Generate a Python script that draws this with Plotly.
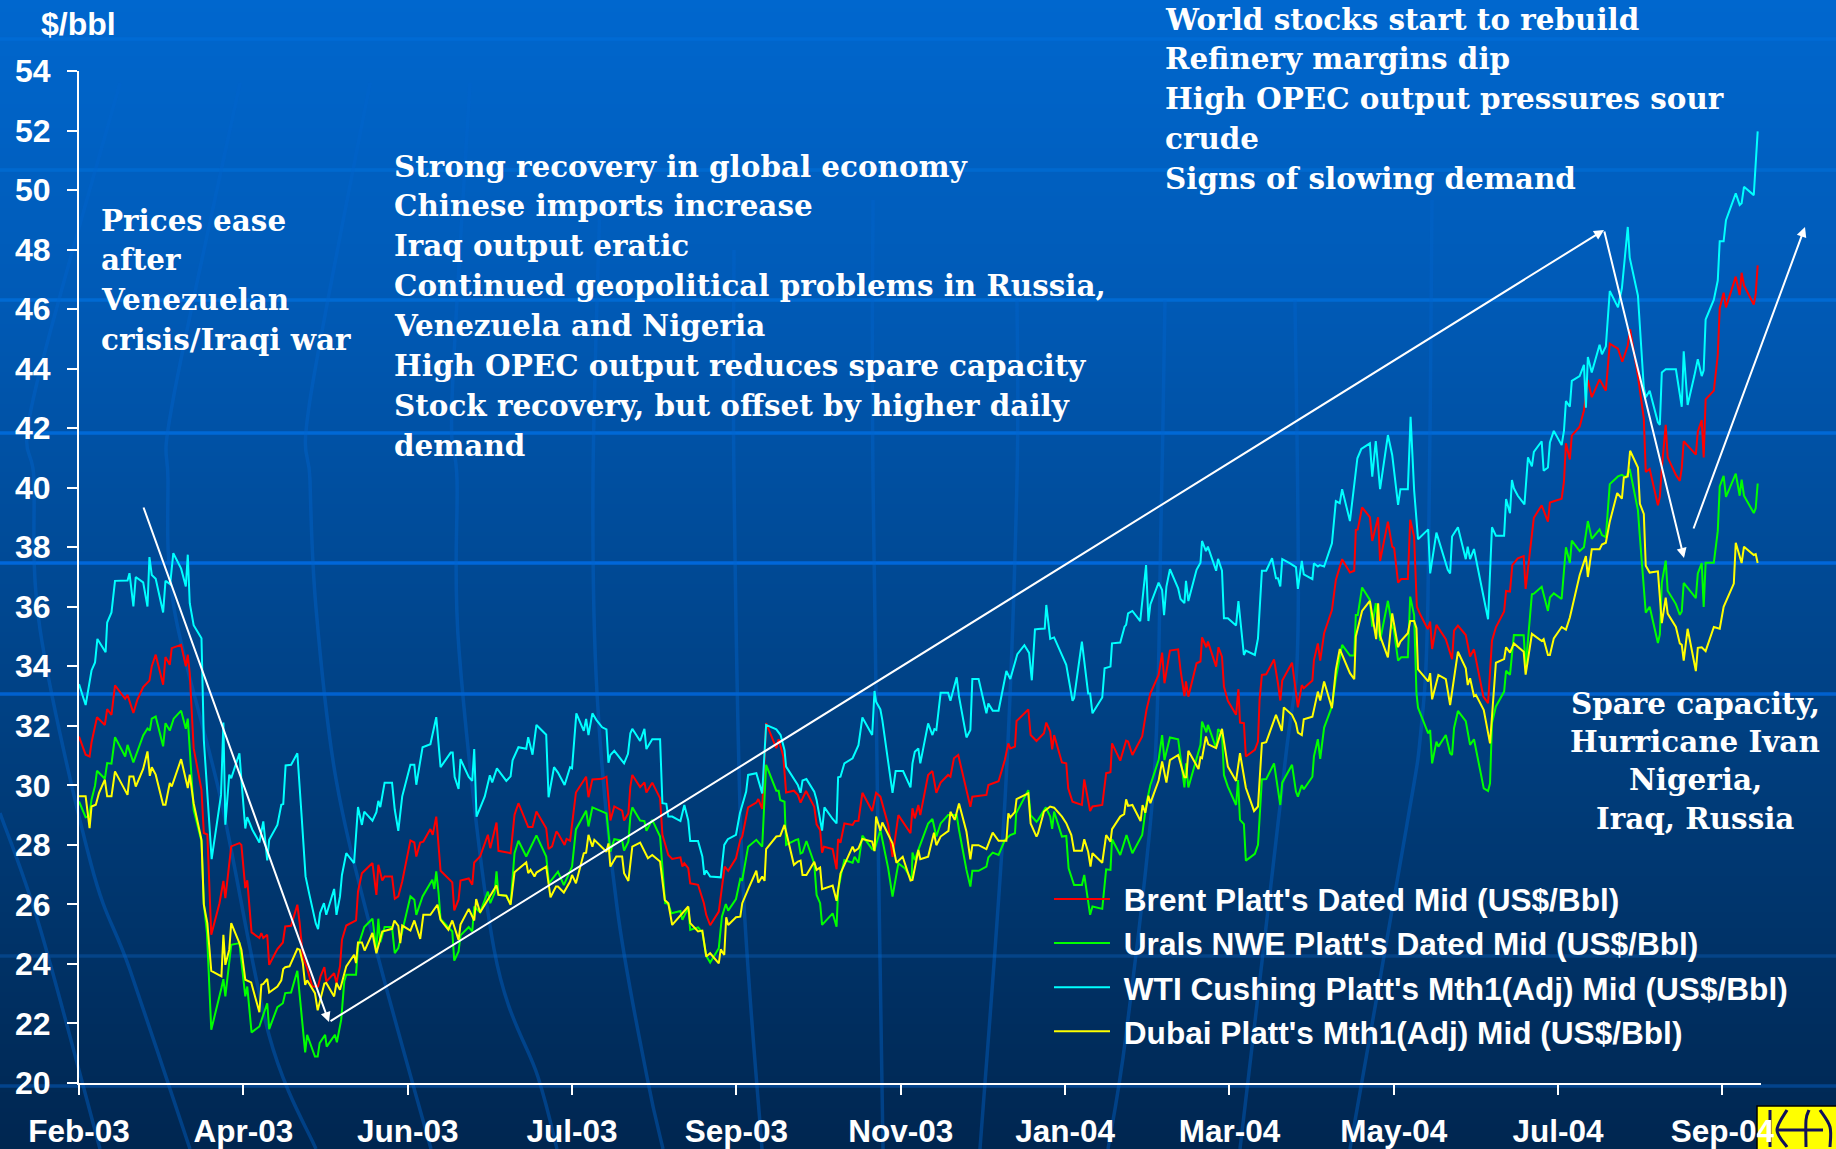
import plotly.graph_objects as go

# ---------- data: (business-day number since the start of Feb-03, US$/bbl) ----------
tick_labels = ["Feb-03","Apr-03","Jun-03","Jul-03","Sep-03","Nov-03","Jan-04","Mar-04","May-04","Jul-04","Sep-04"]
y_ticks = list(range(20, 55, 2))

wti = [(0,33.4),(1.7,32.7),(3.2,33.86),(4.1,34.13),(4.7,34.92),(6.8,34.47),(7.2,35.47),(8.3,35.81),(9.2,36.87),(12.4,36.88),(12.9,37.13),(13.9,36.01),(14.5,37.0),(16.4,36.82),(17.5,36.01),(18,37.67),(18.6,37.07),(19.6,36.94),(21.5,35.81),(22.1,36.87),(23.3,36.76),(24.1,37.8),(26.1,37.28),(27.3,36.68),(27.8,37.75),(28.3,36.12),(29.3,35.38),(31.3,34.94),(31.9,31.53),(33.9,27.52),(36.3,29.68),(36.9,32.11),(37.4,28.68),(38.4,30.36),(38.9,30.24),(41,31.08),(41.5,30.19),(42.5,28.55),(43,28.93),(44.3,28.51),(46.1,28.08),(47.1,28.79),(48.1,27.48),(48.6,28.17),(50.7,28.67),(51.7,29.35),(52.2,29.37),(52.8,30.67),(54.2,30.69),(55.8,31.08),(56.9,28.96),(57.9,26.94),(58.8,26.38),(60.5,25.37),
(61.1,25.17),(61.6,25.71),(62.6,26.04),(63.2,25.65),(65.2,26.52),(65.8,25.65),(66.7,26.27),(67.2,26.99),(68.3,27.72),(70.3,27.39),(71.3,29.27),(72.3,28.67),(72.9,29.12),(75,28.81),(76,29.1),(76.5,29.48),(77,29.27),(78.1,30.09),(80,30.09),(80.7,29.18),(81.6,28.47),(82.6,29.63),(84.7,30.69),(85.7,30.69),(86.2,30.02),(87.8,31.28),(89.8,31.38),(91.3,32.29),(92.4,30.61),(95,31.1),(95.5,31.1),(96,30.28),(97,29.88),(97.5,30.88),(99.6,30.28),(100.5,30.15),(101,31.22),(101.6,28.95),(103.7,29.63),(105,30.34),(105.6,30.1),(106.8,30.57),(109.2,30.15),(110.3,30.3),(110.8,30.84),(112.3,31.28),(114.3,31.23),(114.8,31.62),(115.9,31.03),(116.9,32.03),(119.4,31.7),(120,29.6),(121.4,30.61),
(122.4,30.43),(124.1,30.01),(125.5,30.61),(126,30.57),(127.1,32.42),(129,31.83),(129.6,32.23),(130.2,31.69),(131.2,32.42),(132.2,32.2),(133.7,31.95),(134.8,31.88),(135.3,30.76),(135.8,31.02),(136.8,31.16),(139.3,30.74),(140.3,31.06),(140.9,31.75),(141.4,31.9),(143.4,31.49),(144.5,31.9),(145,31.22),(146.5,31.55),(148.5,31.55),(149.1,29.4),(150.1,29.38),(150.6,28.95),(151.6,28.95),(153.7,28.8),(154.7,29.34),(155.7,28.82),(156.2,28.13),(158.2,28.13),(159.3,27.61),(159.8,26.99),(160.3,27.14),(161.3,26.94),(164,26.91),(164.9,28),(165.8,28.19),(167.9,28.34),(168.9,29.06),(170.5,29.79),(171,30.35),(173.1,30.41),(174.6,29.73),(175.6,32.03),(178.2,31.88),(179.3,31.69),(180.3,31.19),(180.7,30.63),(183.7,30.01),
(184.4,29.75),(184.9,30.16),(185.9,30.21),(187.9,29.79),(188.5,29.51),(189.9,28.48),(190.5,29.26),(192.6,28.87),(193.6,28.72),(194,30.27),(194.6,30.29),(195.6,30.74),(197.7,30.91),(199.2,31.35),(200.2,32.28),(202.7,31.69),(203.3,33.17),(203.7,32.81),(204.8,32.55),(205.3,32.19),(206.8,30.74),(207.9,29.75),(208.7,30.48),(210.6,30.48),(212.5,29.93),(213,30.74),(213.6,31.13),(214.5,31.24),(215,30.74),(217,32.08),(218.1,31.69),(218.6,31.89),(219.1,31.86),(220.2,33.11),(222.1,33.11),(222.7,32.84),(223.2,33.09),(224.3,33.63),(224.9,32.98),(226.8,31.61),(227.8,31.86),(228.3,33.57),(229.9,33.57),(231.9,32.42),(232.4,32.75),(233.5,32.51),(235,32.51),(237,33.84),(238,33.57),(239.8,34.41),(241.6,34.71),(242.8,34.45),(243.5,33.53),(244.3,35.24),
(245.1,35.25),(246.8,35.27),(247.2,36.06),(248.2,34.92),(249.2,34.97),(252.3,34.05),(253.9,32.84),(254.3,32.93),(256.3,34.83),(257.9,33.09),(258.4,33.09),(259,32.42),(261.5,32.95),(262.1,33.93),(263.6,33.99),(264,34.77),(266.1,34.8),(267.2,35.33),(267.6,35.39),(268.1,35.78),(269.2,35.86),(271.2,35.52),(272.7,37.4),(273.3,35.52),(273.8,36.08),(275.9,36.81),(276.8,36.56),(277.3,35.72),(277.9,36.68),(278.8,37.26),(280.9,36.62),(281.5,36.26),(282.5,36.12),(282.9,36.87),(283.5,36.19),(285.6,37.24),(286.6,37.48),(287,38.21),(288,37.87),(288.5,38.02),(290.6,37.21),(291.1,37.61),(292.1,37.21),(292.6,35.61),(293.6,35.61),(295.7,35.37),(296.3,36.19),(297.7,34.38),(298.2,34.53),(300.5,34.38),(301.3,34.94),(302.3,37.21),(303.4,37.21),(304.9,37.63),(305.9,36.96),
(306.4,36.96),(307,36.68),(307.5,37.6),(309.5,37.46),(311,37.33),(311.5,36.6),(312.5,37.54),(313,37.09),(315.2,36.93),(315.6,37.46),(316.6,37.35),(317.1,37.4),(318.2,37.35),(320.2,38.13),(321.2,39.55),(322.2,39.48),(322.8,39.95),(324.8,38.88),(326.7,40.99),(327.7,41.3),(329.9,41.49),(330.5,40.37),(331.4,41.57),(332.5,39.95),(334.5,41.77),(335.6,41.1),(337.1,39.42),(337.7,39.95),(339.6,39.95),(340.3,42.38),(341.2,39.92),(342.2,38.27),(344.8,38.6),(345.3,37.12),(346.9,38.49),(349.8,37.24),(350.4,37.12),(350.9,38.36),(352.4,38.67),(354.4,37.6),(354.9,38.02),(355.5,37.6),(356.5,37.94),(360.1,35.58),(361.1,38.67),(362.1,38.39),(364.2,38.39),(364.7,39.62),(365.7,39.14),(366.2,40.26),(366.7,39.98),(367.7,39.73),
(369.4,39.44),(370.3,41.02),(371.3,40.72),(371.8,41.2),(373.8,41.56),(374.3,40.57),(375.4,40.68),(375.9,41.52),(376.9,41.91),(378.9,41.43),(379.5,41.92),(380,42.91),(381,42.72),(381.5,43.59),(383.5,43.75),(384.6,44.13),(385.1,42.69),(385.6,44.39),(386.6,43.87),(388.6,44.8),(389.2,44.48),(390.2,44.75),(391.2,46.61),(393.3,46.06),(394.3,46.7),(395.8,48.76),(396.3,47.73),(398.4,46.45),(399.9,43.36),(400.4,43.04),(401.4,43.26),(403.5,42.2),(404,42.11),(404.5,43.87),(405.5,43.98),(408.1,43.98),(409.6,42.72),(410.1,44.58),(411.1,42.78),(412.8,43.75),(413.7,44.32),(414.7,43.75),(415.2,43.94),(415.7,45.65),(417.8,46.32),(418.8,46.96),(419.3,48.28),(420.3,48.28),(420.9,48.99),(423.4,49.89),(424.4,49.5),(424.9,49.56),(425.5,50.11),(428,49.83),(429,51.97)]

brent = [(0,31.64),(1.7,31.03),(2.7,30.97),(3.2,31.44),(4.6,32.29),(6.6,32.03),(7.2,32.56),(8.3,32.37),(9.2,33.36),(11.8,32.91),(12.4,33.04),(13.9,32.43),(14.9,32.87),(16.4,33.3),(18,33.52),(18.6,34),(19.6,34.39),(21.5,33.38),(22.1,34.31),(23.2,34.05),(23.7,34.61),(26.1,34.72),(27.3,34),(27.8,34.39),(28.3,33.77),(28.8,32.43),(29.3,31.25),(31.3,29.85),(31.9,28.4),(32.8,28.35),(33.8,24.98),(35.9,26.04),(36.9,26.79),(37.4,26.21),(38.9,27.95),(41,28.06),(41.5,28),(42.5,26.55),(43,26.81),(44.1,25.06),(46.1,24.87),(46.6,25.04),(47.1,24.87),(48.1,24.98),(48.6,23.97),(50.7,24.5),(52.1,24.72),(52.7,25.26),(54.2,25.28),(55.8,25.99),(56.4,25.37),(57.2,24.25),(58.3,23.86),(59.6,23.24),
(61.1,23.24),(61.7,23.58),(62.7,23.89),(63.2,23.41),(65.2,23.69),(65.8,23.36),(66.7,23.92),(67.2,24.81),(68.3,25.29),(70.8,25.46),(71.3,26.43),(72.3,27.05),(75,27.39),(76,26.32),(76.5,27.33),(77.5,26.8),(78.1,26.94),(80,26.94),(80.7,26.19),(81.6,26.27),(82.6,26.77),(84.7,28.15),(85.7,28.08),(86.2,27.61),(87.2,28.08),(88,28.11),(89.8,28.53),(90.4,28.34),(91.3,28.95),(92.4,27.13),(95.4,26.74),(95.9,25.8),(97,26.16),(97.5,26.8),(99.6,26.87),(100.5,26.66),(101,27.41),(102.5,27.61),(104.5,28.34),(105.1,27.89),(106.7,28.75),(107.2,27.8),(110.3,27.72),(111.3,29.01),(112.3,29.4),(114.8,28.6),(115.9,28.6),(116.9,29.12),(119.4,28.56),(120,27.86),(120.9,27.95),(122,28.45),
(122.4,28.39),(124.1,28),(124.6,28.2),(125.5,28.14),(127,29.76),(129.6,30.29),(130.2,29.6),(131.2,30.2),(133.7,30.22),(134.8,30.29),(135.8,28.82),(136.8,29.29),(138.8,29.15),(139.3,28.82),(140.4,29.06),(140.9,29.96),(141.4,30.35),(143.4,29.94),(144.5,30.1),(145,29.76),(146.5,30.09),(148.5,29.57),(149.1,28.34),(150.6,27.66),(151.6,27.53),(153.7,27.58),(154.2,27.27),(154.7,27.38),(155.7,27.22),(156.2,26.71),(158.2,26.66),(159.7,26.04),(160.3,25.65),(161.3,25.3),(163.5,25.76),(165,27.27),(165.9,27.13),(167.9,27.55),(169,28.17),(169.5,28.28),(171,29.26),(173.1,29.42),(173.6,29.54),(174.6,29.21),(175.6,32.09),(178.2,31.25),(178.8,31.55),(180,30.97),(180.7,29.76),(182.7,29.82),(183.7,29.68),
(184.4,29.42),(185.8,29.81),(187.9,29.28),(188.5,28.69),(189.4,28.5),(189.9,27.74),(190.4,27.94),(192.6,27.86),(193.6,27.18),(194,28.2),(194.6,28.07),(195.6,28.72),(197.7,28.67),(198.3,28.8),(199.2,28.81),(200.2,29.75),(202.7,29.14),(203.7,29.75),(204.8,29.62),(206.8,28.67),(207.9,27.6),(209.4,29),(212.5,28.39),(213,29.23),(213.6,28.89),(214.5,29.34),(215,29),(217,30.35),(218.1,30.48),(219.1,29.75),(220.2,30.09),(222.1,30.35),(222.7,30.29),(223.6,30.91),(224.7,31.02),(226.8,29.84),(227.8,29.28),(228.3,29.62),(231.9,29.68),(232.4,30.01),(235,30.14),(236.6,30.85),(237.5,31.41),(238,31.24),(239.2,31.3),(239.6,32.16),(242.6,32.55),(243.2,31.69),(244.7,31.49),
(246.6,31.75),(247.2,32.11),(248.2,31.81),(248.7,31.21),(249.2,31.69),(251.2,30.77),(252.3,30.74),(252.8,29.9),(253.9,29.45),(256.3,29.34),(256.9,30.2),(258.4,29.14),(259,29.29),(261.5,29.34),(262.5,30.41),(263.6,30.44),(264,31.41),(266.1,30.83),(267.6,31.5),(268.1,31.47),(269.2,31.02),(271.7,31.64),(272.8,32.53),(273.8,33.09),(275.9,33.71),(276.8,34.46),(277.4,33.43),(278.8,34.53),(280.9,34.57),(281.5,33.88),(282.5,33),(282.9,33.49),(283.5,32.98),(285.6,34.1),(286.6,34.16),(287,34.97),(288.1,34.64),(288.5,34.83),(290.6,33.99),(291.2,34.64),(292.1,34.32),(292.6,33.32),(293.6,32.84),(295.7,32.37),(296.3,33.23),(296.7,32.11),(297.7,32.09),(298.2,30.97),(300.5,31.19),(301.3,31.47),(301.7,32.87),(302.3,33.71),(303.4,33.73),(305.4,34.23),(306.4,33.43),
(307,32.85),(307.5,33.52),(310,34.12),(311.5,32.62),(312.5,33.37),(313,33.26),(315.2,33.52),(315.6,34.21),(316.6,34.77),(317.2,34.19),(318.2,35.11),(320.2,35.89),(321.2,36.9),(322.8,37.6),(324.8,37.15),(325.9,37.21),(326.3,38.58),(326.8,38.6),(327.9,39.34),(329.9,39.01),(330.5,38.21),(332,39.01),(332.5,37.54),(334.5,38.86),(335.6,38.02),(336.1,37.97),(337.1,36.81),(337.9,36.93),(339.6,36.93),(340.2,38.92),(341.2,38.36),(341.9,36),(342.8,35.73),(344.7,35.25),(345.3,35.5),(345.8,34.58),(346.9,35.39),(349.3,34.91),(350.9,34.24),(351.4,35.2),(352.4,35.37),(354.4,35.05),(355.5,34.33),(356.5,34.57),(358.9,32.98),(360.1,32.76),(361.1,34.86),(362.1,35.31),(364.2,35.84),(364.7,36.53),(365.7,36.51),(366.3,37.4),(367.7,37.63),
(369.2,37.7),(369.7,36.6),(371.8,38.99),(373.8,39.41),(375.4,38.86),(375.9,39.5),(378.9,39.63),(379.5,40.21),(380,41.49),(381,40.95),(381.5,41.75),(383.5,42.05),(384.6,42.59),(385.6,43.62),(386.6,43.04),(388.6,43.64),(390.2,43.26),(391.2,44.84),(393.3,44.67),(394.4,44.23),(395.8,44.77),(396.4,45.33),(398.4,43.75),(399.9,42.33),(400.4,40.53),(401.4,40.63),(403.5,39.41),(404,39.69),(404.5,40.66),(405.5,42.11),(406,41.02),(408.1,40.43),(409.1,40.23),(409.6,40.66),(410.1,41.56),(413.2,41.11),(413.7,41.88),(414.7,42.27),(415.2,41.02),(415.7,42.97),(417.8,43.26),(418.8,44.45),(419.3,46.03),(420.3,46.55),(420.9,46.06),(423.4,47.09),(424.4,46.47),(424.9,47.22),(425.5,46.8),(428,46.15),(428.5,46.51),(429,47.47)]

urals = [(0,29.46),(1.7,28.93),(2.6,28.96),(3.2,29.52),(4.1,29.99),(4.6,30.49),(6.6,30.22),(7.2,30.75),(8.3,30.73),(9.2,31.62),(11.8,30.97),(12.4,31.36),(13.9,30.77),(16.4,31.68),(17.5,31.91),(18.1,31.84),(18.6,32.24),(19.6,32.31),(21.5,31.31),(22.1,32.09),(23.2,31.84),(24.2,32.24),(26.1,32.51),(27.3,31.9),(27.8,32.24),(29.3,29.18),(31.3,28.12),(31.9,26.04),(32.7,25.04),(33.8,21.79),(36.4,23.19),(36.9,23.49),(37.4,22.91),(38.9,24.64),(41,24.7),(42.5,22.91),(43,23.24),(44.1,21.7),(46.1,21.9),(48.1,22.68),(48.6,21.81),(50.7,22.55),(52.1,22.68),(52.7,23.02),(54.2,23.04),(55.8,23.77),(57.8,21.03),(58.3,21.62),(60.3,20.89),(61,20.89),
(61.5,21.34),(62.9,21.62),(63.3,21.22),(65.4,21.62),(65.9,21.37),(67,22.12),(67.8,23.42),(68.3,23.64),(70.8,23.64),(71.3,24.59),(72.9,25.24),(75,25.52),(76,24.48),(76.5,25.52),(77,24.73),(78.1,25.24),(80,25.24),(80.7,24.36),(81.6,24.53),(84.7,26.27),(85.7,26.16),(86.2,25.65),(87.8,26.27),(90.3,26.83),(90.8,26.52),(91.3,27.11),(91.9,26.38),(92.4,25.51),(95.4,25.09),(95.9,24.11),(97,24.42),(97.5,24.96),(99.6,25.24),(100.5,25.09),(101,25.93),(102.5,25.73),(104.5,26.43),(105.1,26.04),(106.2,26.38),(106.7,27.11),(107.2,26.32),(109.2,26.29),(110.3,26.01),(111.3,27.72),(112.3,28.14),(114.3,27.61),(116.9,28.32),(119.4,27.61),(120.1,26.71),(121.6,26.94),(122.4,27.1),
(123.9,26.65),(126,27.27),(127,28.52),(129.6,29.15),(130.2,28.62),(131.2,29.26),(134.8,29.06),(135.8,27.77),(136.8,28.19),(138.8,28.14),(139.3,27.81),(140.4,28.11),(140.9,28.95),(141.4,29.26),(143.4,28.82),(144.5,28.8),(145,28.47),(146.5,28.84),(148.5,28.28),(149.8,26.04),(150.6,26.02),(151.4,25.7),(153.7,25.78),(154.2,25.48),(155.7,25.9),(156.2,25.14),(158.2,25.23),(159.3,25.06),(160.3,24.27),(161.3,24.05),(163.5,24.53),(164.3,25.59),(165.3,26.01),(165.9,25.79),(167.9,26.18),(169,26.86),(169.5,26.82),(171,27.94),(173.1,28.17),(174.6,27.94),(175.6,30.69),(178.2,29.82),(178.8,29.82),(179.2,29.51),(180.3,29.45),(180.7,28),(183.2,28.17),
(183.8,28.19),(184.4,27.71),(184.9,27.74),(185.9,28.13),(187.9,27.38),(188.5,26.32),(189.4,26.04),(189.9,25.31),(192.6,25.7),(193.6,25.25),(194,26.48),(195,27.16),(195.6,27.49),(197.7,27.4),(198.2,27.6),(199.2,27.4),(200.2,28.31),(202.7,27.86),(203.3,27.83),(204.8,28.5),(206.8,27.21),(207.9,26.26),(209.4,27.38),(211.1,27.21),(212.8,26.82),(213,27.74),(213.6,27.49),(214.5,27.83),(217,28.72),(218.1,28.87),(219.1,28.28),(220.2,28.72),(222.1,29),(224.3,29),(224.9,28.5),(226.8,27.16),(227.8,26.6),(228.3,27.13),(229.9,27.13),(231.9,27.27),(232.4,27.58),(233.5,27.74),(235,27.66),(236.6,28.16),(238,28.33),(239.2,28.39),(239.5,29.06),(242.6,29.84),(243.2,29),(244.7,28.78),
(245.1,28.84),(247.1,29.26),(248.2,28.95),(248.7,28.54),(249.2,29.12),(251.2,28.28),(252.3,28.3),(252.9,27.21),(254.3,26.65),(256.3,26.65),(256.9,26.99),(258.4,25.65),(259,25.93),(261.5,25.85),(262.5,27.18),(263.6,27.16),(264,28.19),(266.1,27.66),(267.7,28.33),(269.2,27.72),(271.7,28.33),(272.8,29.4),(273.8,30.01),(275.9,30.85),(276.8,31.69),(277.4,30.85),(278.8,31.61),(280.9,31.55),(282.5,29.93),(282.9,30.74),(283.5,29.93),(286.6,31.36),(287,32.14),(288.1,31.78),(288.5,32.03),(290.6,31.25),(291.1,31.89),(292.1,31.75),(292.6,30.35),(293.6,29.96),(295.7,29.34),(296.2,30.18),(296.7,28.84),(297.7,28.7),(298.2,27.47),(300.5,27.7),(301.3,28),(302.3,30.2),(303.4,30.21),(305.4,30.74),(306.4,29.9),
(307,29.34),(307.5,30.09),(310,30.69),(311,29.79),(311.5,29.62),(312.5,30.01),(313,29.87),(315.2,30.29),(315.6,30.97),(316.6,31.55),(317.2,30.89),(318.2,31.94),(320.2,32.65),(321.2,33.6),(322.8,34.72),(324.8,34.36),(325.9,34.36),(326.3,35.72),(326.8,35.72),(327.9,36.65),(329.9,36.23),(330.5,35.33),(331.4,36.12),(332.5,34.86),(334.5,36.2),(335.6,35.33),(336,35.24),(337.1,34.19),(337.9,34.3),(339.6,34.3),(340.2,36.34),(341.2,35.72),(341.8,33.09),(342.2,32.61),(344.8,31.75),(345.3,31.86),(345.8,30.74),(346.9,31.47),(347.4,31.3),(349.3,31.69),(350.4,31.08),(350.9,31.02),(351.4,31.92),(352.4,32.5),(354.4,32.16),(355.5,31.36),(356.5,31.55),(359,29.9),(360.1,29.81),(360.6,30.07),(361.1,32.09),(362.1,32.65),(364.2,33.15),(364.7,33.85),(365.7,33.71),(366.7,35.05),(367.7,35.05),
(369.2,35.04),(369.7,33.97),(371.3,36.42),(371.8,36.44),(373.8,36.67),(375.4,35.86),(375.9,36.31),(376.9,36.45),(378.9,36.26),(380,38),(381,37.47),(381.5,38.22),(383.5,37.87),(384.6,38),(385.6,38.88),(386.6,38.28),(388.6,38.6),(389.2,38.41),(390.2,38.34),(391.2,40.12),(393.3,40.38),(394.3,40.43),(395.3,40.34),(396.3,40.63),(398.4,39.24),(398.9,38.34),(400.4,35.8),(401.4,36),(403.5,34.78),(404,35.07),(404.5,36.8),(405.5,37.55),(406,36.54),(408.1,36.09),(409.1,35.73),(409.6,35.84),(410.1,36.8),(413.2,36.29),(413.7,37.12),(414.7,37.47),(415.2,35.99),(415.7,37.48),(417.8,37.48),(418.8,38.54),(419.3,40.04),(420.3,40.4),(420.9,39.69),(423.4,40.47),(424.4,39.73),(424.9,40.27),(425.5,39.73),(428,39.15),(428.5,39.31),(429,40.14)]

dubai = [(0,29.63),(1.7,29.63),(2.7,28.56),(3.2,29.29),(4.3,29.35),(5.1,29.74),(6.6,30.19),(7.2,29.63),(8.3,29.63),(9.2,30.47),(12.4,29.68),(12.9,30.3),(13.9,30.3),(14.5,29.96),(16.4,30.55),(17.5,31.14),(18.1,30.32),(18.6,30.61),(19.6,30.36),(21.5,29.35),(22.1,29.35),(23.2,30.08),(23.7,29.96),(26.1,30.88),(27.8,29.91),(28.3,30.36),(29.3,29.4),(31.3,28.17),(31.9,25.99),(32.8,25.37),(33.8,23.77),(36.4,23.58),(36.9,24.98),(37.4,23.97),(38.4,24.48),(38.9,25.37),(41,24.7),(41.5,24.48),(42.5,23.47),(44,23.38),(46.1,22.38),(46.6,23.3),(47.1,23.33),(48.1,23.5),(48.6,23.04),(50.7,23.24),(51.7,23.45),(52.2,23.83),(52.7,23.89),(53.8,23.92),(55.8,24.51),(56.4,24.48),(57.2,24.03),(57.8,23.3),(58.3,23.45),(60.3,23.02),(61,22.44),
(62.7,23.34),(63.2,23.36),(65.2,22.91),(65.8,23.36),(66.7,23.13),(68.3,23.92),(70.3,24.31),(70.8,24.03),(71.3,24.72),(72.3,24.72),(73,24.45),(75,25.04),(76,24.36),(77.5,25.09),(80,25.18),(80.6,25.46),(81.6,25.28),(82.1,24.7),(82.6,25.29),(84.7,25.12),(85.7,25.46),(87.2,24.84),(88,25.65),(89.8,25.65),(91.6,25.99),(92.4,25.48),(94.4,25.15),(95.4,25.46),(97,24.81),(97.5,25.32),(99.6,25.85),(101,25.46),(101.5,26.18),(102.5,25.73),(104.7,26.18),(105.1,26.29),(106.7,26.64),(107.2,26.32),(109.2,26.29),(110.3,25.99),(111.3,27.08),(114.3,27.41),(114.8,27.05),(115.4,27.16),(116.4,26.94),(116.9,27.07),(119.4,27.27),(120.5,26.24),(121.9,26.6),
(122.4,26.6),(123.9,26.4),(125.5,26.77),(126,26.99),(127,26.71),(129,27.72),(129.6,27.74),(130.2,28.34),(131.2,27.94),(131.7,28.17),(134.8,27.77),(135.3,28.05),(135.8,27.27),(137.3,27.61),(138.8,27.61),(139.3,27.05),(140.4,26.79),(141.4,27.94),(143.4,28.08),(145.4,27.55),(146.5,27.66),(148.5,27.44),(149.7,26.15),(150.6,26.04),(151.6,25.31),(155.7,25.93),(156.2,25.37),(158.2,25.09),(159.3,25.12),(160.3,24.25),(161.3,24.36),(163.5,24.02),(164,24.49),(164.9,24.3),(165.4,25.57),(165.9,25.31),(167.9,25.57),(169,25.59),(169.5,26.04),(171.1,26.54),(173.1,27.13),(173.6,26.73),(174.6,26.94),(175.2,26.79),(175.6,27.86),(178.2,28.28),(179.2,28.3),(180.3,28.67),(182.7,27.33),(183.7,27.44),
(184.4,27.47),(184.9,26.99),(185.9,26.99),(187.9,27.43),(188.5,27.16),(189.4,27.24),(189.9,26.51),(192.6,26.63),(193.6,26.12),(194.6,27.04),(196.6,27.6),(197.7,27.94),(198.2,27.79),(199.2,27.88),(200.2,28.2),(202.7,28.11),(203.3,27.79),(203.7,28.95),(204.8,28.48),(205.3,28.75),(207.9,28.05),(208.9,27.4),(210.5,27.6),(212.5,26.8),(213,26.82),(214.5,27.83),(215,27.52),(217,27.6),(218.5,28.41),(219.1,27.99),(220.2,28.28),(222.2,28.47),(222.7,29.11),(223.8,28.84),(224.9,29.39),(226.8,28.44),(227.8,27.51),(228.3,27.99),(229.9,27.99),(231.9,27.86),(233.5,28.41),(235,28.14),(237,28.14),(237.5,29.06),(238,28.92),(239.2,29.11),(239.6,29.54),(242.6,29.73),(243.2,28.72),(244.7,28.28),
(245.1,28.39),(246.6,29.12),(248.2,29.29),(249.2,29.25),(251.2,28.95),(252.3,28.73),(253.6,28.33),(254.3,27.8),(256.3,27.8),(256.9,28.19),(257.9,27.77),(258.5,27.27),(259,27.72),(261.5,27.4),(262.5,28.33),(263.6,28.11),(264,28.53),(266.1,28.95),(267.1,29.03),(267.6,29.53),(268.1,29.31),(269.2,29.34),(271.3,28.8),(271.8,29.34),(272.5,29.08),(273.3,29.65),(273.8,29.4),(275.9,30.16),(276.8,30.8),(277.9,30.09),(278.8,30.85),(280.9,31.02),(282.5,30.27),(283,30.27),(283.5,31.16),(286.1,30.55),(286.6,30.94),(287,30.91),(288,31.64),(288.6,31.38),(290.6,31.25),(292.1,31.9),(293.6,30.63),(295.7,30.15),(296.7,31.08),(298.2,29.92),(300.3,29.14),(301.3,29.29),(302.3,31.41),(303.4,31.45),(305.9,32.37),(306.4,32.2),
(307.4,31.83),(307.9,32.62),(310,32.37),(311,32.09),(311.5,31.77),(312.5,31.69),(313,32.22),(315.2,32.31),(316.6,33.15),(317.2,32.85),(318.2,33.49),(320.2,32.59),(321.2,33.88),(322.2,34.58),(324.8,33.77),(325.9,33.57),(326.3,35),(327.9,35.86),(329.9,36.2),(331.5,34.91),(332,36.12),(332.5,35.02),(334.5,34.3),(335.6,35.78),(337.1,34.64),(337.7,34.83),(339.6,35.11),(340.2,35.52),(341.2,35.52),(341.8,35.28),(342.2,33.9),(344.8,33.49),(345.3,33.77),(345.8,32.89),(347.4,33.71),(349.3,33.57),(350.4,32.7),(352.4,34.49),(354.4,33.93),(354.9,33.37),(355.5,33.6),(356.5,33),(357,33.04),(359,32.53),(360.6,31.41),(362.1,34.12),(364.2,34.24),(364.7,34.64),(365.7,34.46),(366.7,34.77),(367.7,34.66),
(369.2,34.49),(369.7,33.72),(371.3,35.09),(373.8,34.85),(374.3,34.91),(375.4,34.38),(375.9,34.38),(376.9,34.94),(378.9,35.32),(380,35.23),(381,35.64),(383.5,37.06),(385.1,37.7),(385.6,37),(386.6,37.93),(388.6,37.93),(389.2,38.09),(390.2,38.15),(391.2,38.86),(393.1,39.82),(394.3,39.63),(394.8,40.34),(395.8,40.38),(396.4,41.24),(398.4,40.68),(398.9,39.46),(399.9,39.12),(400.4,37.38),(401.4,37.15),(403.5,37.19),(404.5,35.45),(405.5,36.31),(406,35.77),(408.1,35.32),(409.1,34.77),(409.6,34.72),(410.1,34.19),(411.1,35.26),(413.2,33.84),(413.7,34.62),(414.7,34.64),(415.7,34.51),(417.8,35.32),(419.3,35.26),(420.3,36),(422.9,36.78),(423.4,38.15),(424.9,37.47),(425.5,38.02),(428,37.74),(428.5,37.77),(429,37.47)]

series_names = ["\u00a0Brent Platt's Dated Mid (US$/Bbl)", "\u00a0Urals NWE Platt's Dated Mid (US$/Bbl)",
                "\u00a0WTI Cushing Platt's Mth1(Adj) Mid (US$/Bbl)", "\u00a0Dubai Platt's Mth1(Adj) Mid (US$/Bbl)"]
series_data = [brent, urals, wti, dubai]
series_colors = ["#FF0000", "#00FF00", "#00FFFF", "#FFFF00"]

note_prices = ["Prices ease", "after", "Venezuelan", "crisis/Iraqi war"]
note_recovery = ["Strong recovery in global economy", "Chinese imports increase", "Iraq output eratic",
                 "Continued geopolitical problems in Russia,", "Venezuela and Nigeria",
                 "High OPEC output reduces spare capacity", "Stock recovery, but offset by higher daily", "demand"]
note_rebuild = ["World stocks start to rebuild", "Refinery margins dip", "High OPEC output pressures sour",
                "crude", "Signs of slowing demand"]
note_spare = ["Spare capacity,", "Hurricane Ivan", "Nigeria,", "Iraq, Russia"]

# ---------- page geometry ----------
W, H = 1836, 1149
L, R, T, B = 79, 1761, 71, 1083
px = lambda X: (X - L) / (R - L)
py = lambda Y: (B - Y) / (B - T)
SANS = "Liberation Sans"
SERIF = "DejaVu Serif"

fig = go.Figure()
for name, data, colour in zip(series_names, series_data, series_colors):
    fig.add_trace(go.Scatter(x=[d for d, _ in data], y=[v for _, v in data], mode="lines", name=name,
                             legendgroup=name, line=dict(color=colour, width=2), hoverinfo="skip"))

shapes = []
# background gradient
stops = [(0, (0, 103, 206)), (300, (0, 90, 182)), (560, (0, 74, 150)), (820, (0, 58, 118)), (1149, (0, 38, 80))]
def bg(y):
    for (y0, c0), (y1, c1) in zip(stops, stops[1:]):
        if y <= y1:
            t = (y - y0) / (y1 - y0)
            return tuple(round(a + (b - a) * t) for a, b in zip(c0, c1))
    return stops[-1][1]
for y in range(0, H, 4):
    c = bg(y + 2)
    shapes.append(dict(type="rect", xref="paper", yref="paper", x0=px(0), x1=px(W), y0=py(y), y1=py(y + 4.5),
                       fillcolor=f"rgb{c}", line_width=0, layer="below"))
# globe parallels
for y, col in [(39, "rgba(0,120,230,0.35)"), (170, "rgba(0,120,230,0.4)"), (300, "rgba(0,120,235,0.55)"),
               (433, "rgba(0,115,235,0.7)"), (563, "rgba(0,110,235,0.8)"), (694, "rgba(0,105,225,0.8)"),
               (956, "rgba(10,85,170,0.5)"), (1086, "rgba(5,85,175,0.6)")]:
    shapes.append(dict(type="line", xref="paper", yref="paper", x0=px(0), x1=px(W), y0=py(y), y1=py(y),
                       line=dict(color=col, width=3.5), layer="below"))
# globe meridians
meridians = [
    [(120,83),(33,400),(34,480),(40,629),(91,864),(130,970),(190,1149)],
    [(240,83),(173,400),(168,480),(174,608),(221,800),(269,1035),(316,1149)],
    [(370,83),(310,400),(310,480),(316,608),(336,779),(376,949),(431,1149)],
    [(470,83),(452,400),(457,480),(459,650),(494,949),(538,1077),(557,1149)],
    [(600,200),(593,480),(597,693),(617,907),(647,1077),(663,1149)],
    [(734,250),(734,480),(742,864),(762,1149)],
    [(873,200),(873,480),(883,1149)],
    [(1017,300),(1017,480),(1005,800),(980,1149)],
    [(1165,300),(1161,523),(1154,779),(1126,1035),(1108,1149)],
    [(1295,300),(1298,630),(1285,763),(1240,1149)],
    [(1432,200),(1428,597),(1421,730),(1406,830),(1350,1149)],
    [(0,813),(40,928),(100,1149)],
]
def smooth(pts):
    p = [pts[0]] + pts + [pts[-1]]
    d = f"M {px(pts[0][0])} {py(pts[0][1])}"
    for i in range(1, len(p) - 2):
        c1 = (p[i][0] + (p[i+1][0] - p[i-1][0]) / 6, p[i][1] + (p[i+1][1] - p[i-1][1]) / 6)
        c2 = (p[i+1][0] - (p[i+2][0] - p[i][0]) / 6, p[i+1][1] - (p[i+2][1] - p[i][1]) / 6)
        d += f" C {px(c1[0])} {py(c1[1])} {px(c2[0])} {py(c2[1])} {px(p[i+1][0])} {py(p[i+1][1])}"
    return d
for m in meridians:
    shapes.append(dict(type="path", path=smooth(m), xref="paper", yref="paper",
                       line=dict(color="rgba(0,100,205,0.42)", width=3.5), layer="below"))
# corner logo
shapes.append(dict(type="rect", xref="paper", yref="paper", x0=px(1757), x1=px(1840), y0=py(1106), y1=py(1153),
                   fillcolor="#FFFF00", line=dict(color="#000000", width=1.5), layer="below"))
for m in [[(1770,1110),(1770,1147)], [(1787,1110),(1777,1130),(1787,1147)], [(1809,1110),(1806,1120),(1806,1147)],
          [(1820,1110),(1830,1127),(1830,1147)], [(1777,1130),(1823,1130)]]:
    shapes.append(dict(type="path", path=smooth(m), xref="paper", yref="paper",
                       line=dict(color="#10105A", width=3), layer="below"))

ann = []
def text(X, Y, s, size, family, anchor="left"):
    ann.append(dict(xref="paper", yref="paper", x=px(X), y=py(Y), text=s, showarrow=False, xanchor=anchor, yanchor="middle",
                    font=dict(family=family, size=size, color="white", weight=700)))
def block(X, Y0, lines, anchor="left", pitch=39.9):
    for i, s in enumerate(lines):
        text(X, Y0 + i * pitch, s, 29.4, SERIF, anchor)
block(99, 220, note_prices)
block(392, 166, note_recovery)
block(1163, 19, note_rebuild)
block(1695, 703, note_spare, "center", 38.4)
text(39, 24, "$/bbl", 32, SANS)

def arrow(X0, Y0, X1, Y1, head=True):
    ann.append(dict(xref="paper", yref="paper", axref="pixel", ayref="pixel", x=px(X1), y=py(Y1), ax=X0 - X1, ay=Y0 - Y1,
                    text="", showarrow=True, arrowhead=2 if head else 0, arrowsize=1, arrowwidth=2, arrowcolor="white", standoff=0))
arrow(143, 506, 329, 1022)
arrow(329, 1022, 1604, 230)
arrow(1604, 230, 1684, 558)
arrow(1693, 530, 1805, 227)

axis_common = dict(showline=True, linecolor="white", linewidth=2, showgrid=False, zeroline=False,
                   automargin=False, ticks="outside", ticklen=10, tickwidth=2, tickcolor="white")
fig.update_layout(
    width=W, height=H, margin=dict(l=L, r=W - R, t=T, b=H - B, pad=0, autoexpand=False),
    paper_bgcolor="#004A96", plot_bgcolor="rgba(0,0,0,0)",
    shapes=shapes, annotations=ann, hovermode=False,
    xaxis=dict(range=[0, (R - L) / 3.913], tickmode="array", tickvals=[42 * i for i in range(len(tick_labels))],
               ticktext=tick_labels, tickangle=0, ticklabelstandoff=9,
               tickfont=dict(family=SANS, size=31.5, color="white", weight=700), **axis_common),
    yaxis=dict(range=[20, 54], tickmode="array", tickvals=y_ticks, ticklabelstandoff=10,
               tickfont=dict(family=SANS, size=32, color="white", weight=700), **axis_common),
    legend=dict(x=px(1049), y=py(872), xanchor="left", yanchor="top", bgcolor="rgba(0,0,0,0)",
                itemwidth=56, tracegroupgap=15.5, traceorder="normal",
                font=dict(family=SANS, size=31.6, color="white", weight=700)),
)
fig.write_html("out.html", config={"displayModeBar": False},
               post_script="document.body.style.margin='0';document.body.style.background='#004A96';")
